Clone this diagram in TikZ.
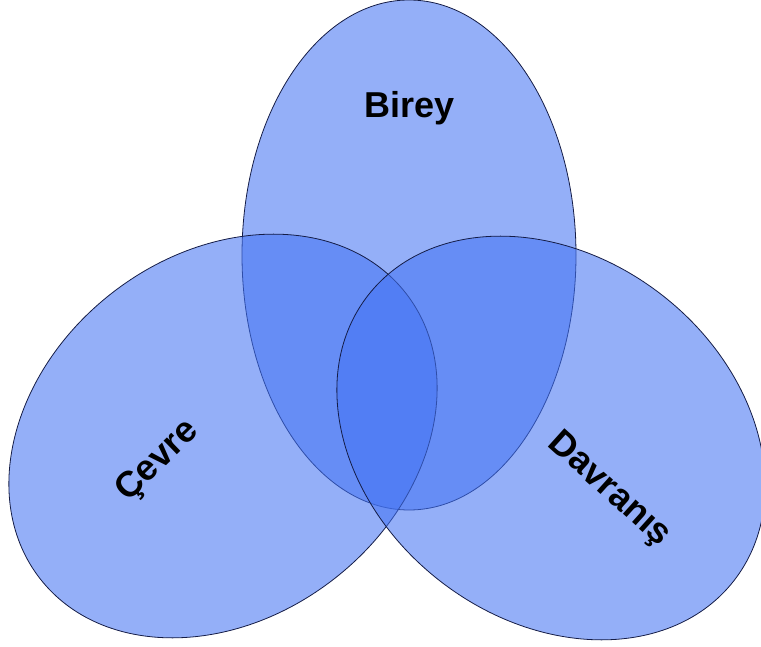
\documentclass[tikz,border=0pt]{standalone}
\usepackage{fontspec}
\setmainfont{Liberation Sans}
\usetikzlibrary{shapes.geometric}
\definecolor{vennblue}{RGB}{67,115,243}
\definecolor{vennline}{RGB}{20,28,70}
\begin{document}
\begin{tikzpicture}[x=1pt,y=-1pt,
  venn/.style={ellipse, draw=vennline, line width=0.8pt, fill=vennblue, fill opacity=0.57, inner sep=0pt, outer sep=0pt},
  lbl/.style={font=\fontsize{36}{42}\selectfont\bfseries, text=black, inner sep=0pt}]
\useasboundingbox (0,0) rectangle (761,647);
\node[venn, minimum width=334pt, minimum height=510pt] (birey) at (409,255) {};
\node[venn, minimum width=464pt, minimum height=362pt, rotate=38] (cevre) at (223,436) {};
\node[venn, minimum width=464pt, minimum height=362pt, rotate=-38] (davranis) at (551,438) {};
\node[lbl] (tbirey) at (410,108) {Birey};
\node[lbl, rotate=44] (tcevre) at (158,461) {Çevre};
\node[lbl, rotate=-42] (tdavranis) at (609,490) {Davranış};
\end{tikzpicture}
\end{document}
